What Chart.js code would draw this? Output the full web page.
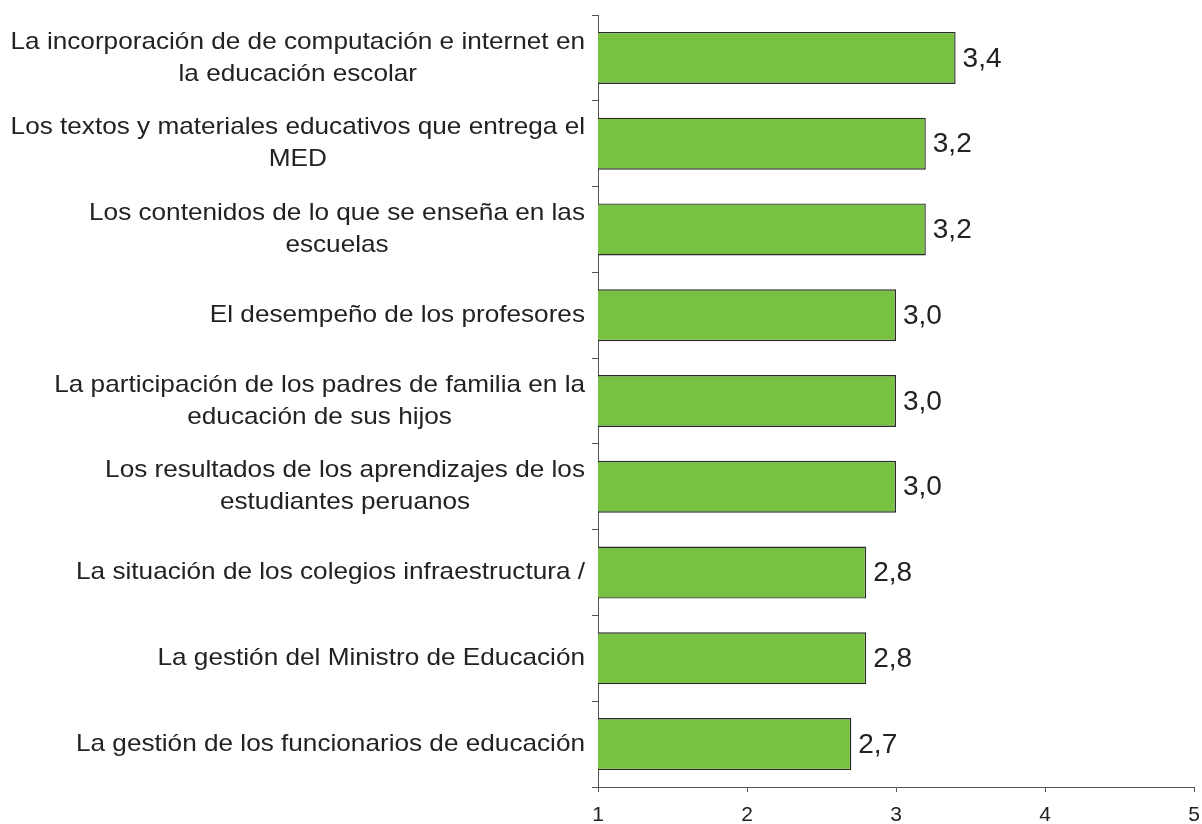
<!DOCTYPE html>
<html>
<head>
<meta charset="utf-8">
<script src="https://cdn.jsdelivr.net/npm/chart.js@4"></script>
<style>
  html, body { margin: 0; padding: 0; background: #fff; }
  #wrap { width: 1202px; height: 824px; }
</style>
</head>
<body>
<div id="wrap"><canvas id="chart" width="1202" height="824"></canvas></div>
<script>
// categories (each entry = lines of the label)
const categories = [
  ["La incorporación de de computación e internet en", "la educación escolar"],
  ["Los textos y materiales educativos que entrega el", "MED"],
  ["Los contenidos de lo que se enseña en las", "escuelas"],
  ["El desempeño de los profesores"],
  ["La participación de los padres de familia en la", "educación de sus hijos"],
  ["Los resultados de los aprendizajes de los", "estudiantes peruanos"],
  ["La situación de los colegios infraestructura /"],
  ["La gestión del Ministro de Educación"],
  ["La gestión de los funcionarios de educación"]
];
const values = [3.4, 3.2, 3.2, 3.0, 3.0, 3.0, 2.8, 2.8, 2.7];
const xTicks = [1, 2, 3, 4, 5];

const FONT = "'Liberation Sans', Arial, sans-serif";

// category labels: block right-aligned to the axis, lines centered inside the block
// the original text is a bit wider than plain Arial, so stretch it horizontally
const catLabels = {
  id: "catLabels",
  afterDraw(chart) {
    const ctx = chart.ctx;
    const y = chart.scales.y;
    const right = chart.chartArea.left - 13;
    const lh = 32;
    const sx = 1.09;
    ctx.save();
    ctx.font = "24px " + FONT;
    ctx.fillStyle = "#222";
    ctx.textAlign = "center";
    ctx.textBaseline = "middle";
    categories.forEach((lines, i) => {
      const cy = y.getPixelForValue(i);
      const w = Math.max(...lines.map(l => ctx.measureText(l).width)) * sx;
      const cx = right - w / 2;
      const top = cy - (lines.length - 1) * lh / 2;
      lines.forEach((l, j) => {
        ctx.save();
        ctx.translate(cx, top + j * lh);
        ctx.scale(sx, 1);
        ctx.fillText(l, 0, 0);
        ctx.restore();
      });
    });
    ctx.restore();
  }
};

// value labels at the end of the bars
const valueLabels = {
  id: "valueLabels",
  afterDatasetsDraw(chart) {
    const ctx = chart.ctx;
    const meta = chart.getDatasetMeta(0);
    ctx.save();
    ctx.font = "28px " + FONT;
    ctx.fillStyle = "#222";
    ctx.textAlign = "left";
    ctx.textBaseline = "middle";
    meta.data.forEach((bar, i) => {
      ctx.fillText(values[i].toFixed(1).replace(".", ","), bar.x + 7, bar.y + 1);
    });
    ctx.restore();
  }
};

new Chart(document.getElementById("chart"), {
  type: "bar",
  data: {
    labels: categories.map(c => c.join(" ")),
    datasets: [{
      data: values,
      backgroundColor: "#79C143",
      borderColor: "#2a2a2a",
      borderWidth: 1.4,
      borderSkipped: false,
      barPercentage: 0.606,
      categoryPercentage: 1
    }]
  },
  options: {
    indexAxis: "y",
    responsive: false,
    animation: false,
    layout: { padding: { top: 15, right: 8, left: 0, bottom: 0 } },
    plugins: { legend: { display: false }, tooltip: { enabled: false } },
    scales: {
      x: {
        min: 1,
        max: 5,
        afterBuildTicks: s => { s.ticks = xTicks.map(v => ({ value: v })); },
        afterFit: s => { s.height = 37; s.paddingLeft = 0; s.paddingRight = 0; },
        grid: { drawOnChartArea: false, drawTicks: true, tickLength: 5, color: "#555" },
        border: { color: "#555", width: 1 },
        ticks: { color: "#222", font: { family: FONT, size: 21 }, padding: 11 }
      },
      y: {
        afterFit: s => { s.width = 598; s.paddingTop = 0; s.paddingBottom = 0; },
        grid: { offset: true, drawOnChartArea: false, drawTicks: true, tickLength: 6, color: "#555" },
        border: { color: "#555", width: 1 },
        ticks: { display: false }
      }
    }
  },
  plugins: [catLabels, valueLabels]
});
</script>
</body>
</html>
